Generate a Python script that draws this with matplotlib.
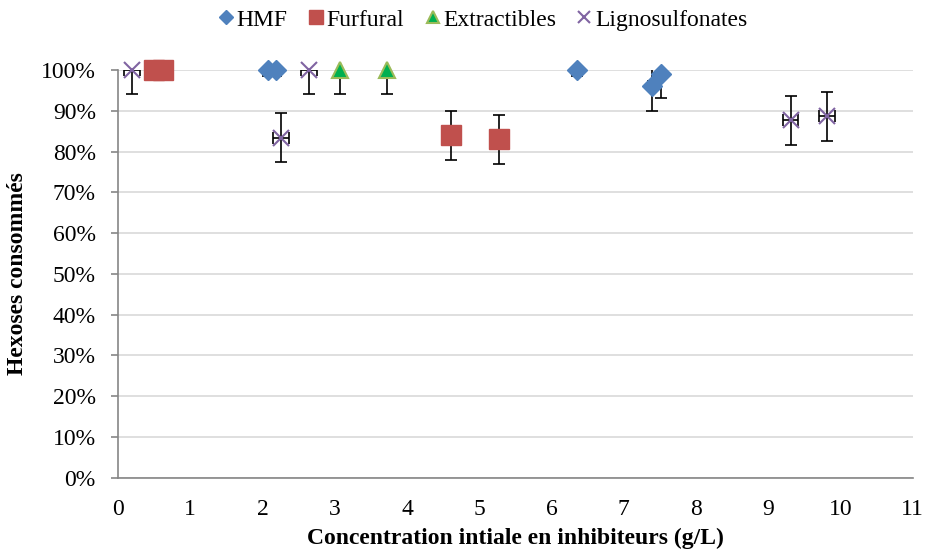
import numpy as np
import matplotlib.pyplot as plt
from matplotlib.ticker import PercentFormatter

plt.rcParams['font.family'] = ['Liberation Serif', 'DejaVu Serif']

# data (x in g/L, y as fraction of hexoses consumed)
hmf_x    = [2.07, 2.19, 6.36, 7.39, 7.51]
hmf_y    = [1.00, 1.00, 1.00, 0.96, 0.99]
hmf_err  = [0.015, 0.015, 0.015, 0.06, 0.06]
hmf_xerr = [0.03, 0.03, 0.03, 0.05, 0.05]

furf_x   = [0.50, 0.62, 4.61, 5.28]
furf_y   = [1.00, 1.00, 0.84, 0.83]
furf_err = [0.0, 0.0, 0.06, 0.06]

extr_x   = [3.07, 3.73]
extr_y   = [1.00, 1.00]
extr_err = [0.06, 0.06]

lig_x    = [0.19, 2.26, 2.64, 9.31, 9.81]
lig_y    = [1.00, 0.834, 1.00, 0.877, 0.886]
lig_err  = [0.06, 0.06, 0.06, 0.06, 0.06]
lig_xerr = [0.11, 0.11, 0.11, 0.11, 0.11]

y_ticks = np.arange(0, 1.01, 0.1)
x_ticks = np.arange(0, 12, 1)

fig = plt.figure(figsize=(9.25, 5.55), dpi=100)
ax = fig.add_axes([0.1276, 0.139, 0.859, 0.735])

# error bars (under the markers, clipped at 100% like excel)
eb = dict(fmt='none', ecolor='black', elinewidth=1.2, capsize=4, capthick=1.2, zorder=2)
ax.errorbar(hmf_x, hmf_y, yerr=hmf_err, xerr=hmf_xerr, **eb)
ax.errorbar(furf_x, furf_y, yerr=furf_err, **eb)
ax.errorbar(extr_x, extr_y, yerr=extr_err, **eb)
ax.errorbar(lig_x, lig_y, yerr=lig_err, xerr=lig_xerr, **eb)

# markers
ax.plot(hmf_x, hmf_y, 'D', color='#4F81BD', ms=10, mec='#4F81BD', label='HMF', zorder=4, clip_on=False)
ax.plot(furf_x, furf_y, 's', color='#C0504D', ms=15, mec='#C0504D', label='Furfural', zorder=4, clip_on=False)
ax.plot(extr_x, extr_y, '^', color='#00B050', ms=12, mec='#9BBB59', mew=1.5, label='Extractibles', zorder=4, clip_on=False)
ax.plot(lig_x, lig_y, 'x', color='#8064A2', ms=12, mew=1.5, label='Lignosulfonates', zorder=5, clip_on=False)

ax.set_xlim(0, 11)
ax.set_ylim(0, 1)
ax.set_xticks(x_ticks)
ax.set_yticks(y_ticks)
ax.yaxis.set_major_formatter(PercentFormatter(1.0, decimals=0))
ax.tick_params(axis='x', length=0, labelsize=17, pad=15)
ax.tick_params(axis='y', length=5, width=1.2, color='#868686', labelsize=17, pad=11)

ax.grid(axis='y', color='#D9D9D9', lw=1.2)
ax.set_axisbelow(True)
for s in ['top', 'right']:
    ax.spines[s].set_visible(False)
for s in ['left', 'bottom']:
    ax.spines[s].set_color('#868686')
    ax.spines[s].set_linewidth(1.2)

ax.set_xlabel('Concentration intiale en inhibiteurs (g/L)', fontsize=17, fontweight='bold', labelpad=6)
ax.set_ylabel('Hexoses consommés', fontsize=17, fontweight='bold')
ax.yaxis.set_label_coords(-0.113, 0.5)

leg = fig.legend(loc='center', bbox_to_anchor=(0.521, 0.964), ncol=4, frameon=False,
                 fontsize=17, markerscale=0.7, handletextpad=0.05, columnspacing=0.8,
                 handlelength=0.8)

fig.savefig('out.png', dpi=100)
